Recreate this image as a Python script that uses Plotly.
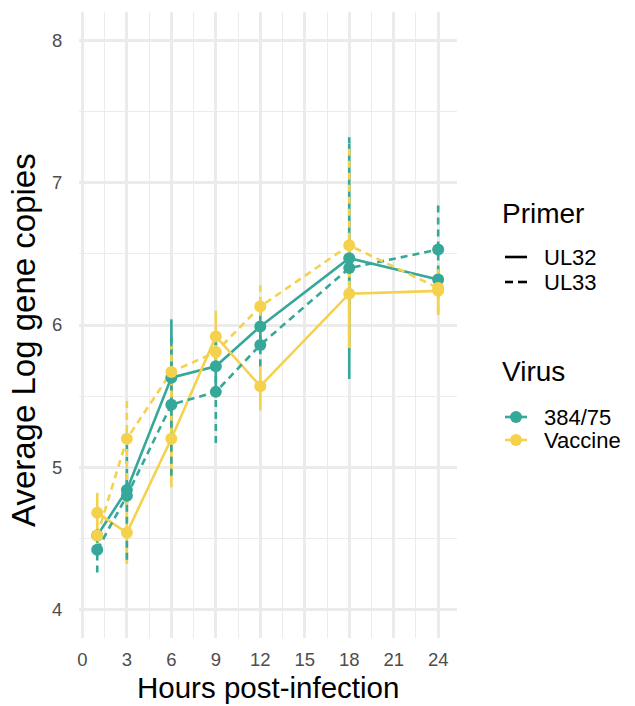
import plotly.graph_objects as go

hours = [1, 3, 6, 9, 12, 18, 24]

v384_ul32 = [4.52, 4.84, 5.63, 5.71, 5.99, 6.47, 6.32]
v384_ul32_err = [0.05, 0.10, 0.41, 0.18, 0.10, 0.85, 0.05]
v384_ul33 = [4.42, 4.80, 5.44, 5.53, 5.86, 6.40, 6.53]
v384_ul33_err = [0.16, 0.45, 0.50, 0.36, 0.15, 0.20, 0.33]
vac_ul32 = [4.68, 4.54, 5.20, 5.92, 5.57, 6.22, 6.24]
vac_ul32_err = [0.14, 0.22, 0.34, 0.18, 0.17, 0.38, 0.17]
vac_ul33 = [4.52, 5.20, 5.67, 5.81, 6.13, 6.56, 6.26]
vac_ul33_err = [0.10, 0.29, 0.18, 0.05, 0.15, 0.72, 0.17]

x_ticks = [0, 3, 6, 9, 12, 15, 18, 21, 24]
y_ticks = [4, 5, 6, 7, 8]

primer_labels = ["UL32", "UL33"]
virus_labels = ["384/75", "Vaccine"]

TEAL = "#35A89A"
YELLOW = "#F4D24E"
DASH = "7px,5px"
LW = 2.6

series = [
    ("384/75", "UL32", v384_ul32, v384_ul32_err, TEAL, "solid"),
    ("Vaccine", "UL32", vac_ul32, vac_ul32_err, YELLOW, "solid"),
    ("384/75", "UL33", v384_ul33, v384_ul33_err, TEAL, DASH),
    ("Vaccine", "UL33", vac_ul33, vac_ul33_err, YELLOW, DASH),
]

fig = go.Figure()

# error bars (vertical segments so they can be dashed)
for virus, primer, vals, errs, col, dash in series:
    xs, ys = [], []
    for h, v, e in zip(hours, vals, errs):
        xs += [h, h, None]
        ys += [v - e, v + e, None]
    fig.add_trace(go.Scatter(x=xs, y=ys, mode="lines", showlegend=False,
                             line=dict(color=col, width=LW, dash=dash),
                             hoverinfo="skip"))

# lines
for virus, primer, vals, errs, col, dash in series:
    fig.add_trace(go.Scatter(x=hours, y=vals, mode="lines", showlegend=False,
                             line=dict(color=col, width=LW, dash=dash)))

# points
for virus, primer, vals, errs, col, dash in series:
    fig.add_trace(go.Scatter(x=hours, y=vals, mode="markers", showlegend=False,
                             marker=dict(color=col, size=12, line=dict(width=0))))

# ---- manual legend / titles (layout in pixel space, converted to paper coords) ----
W, H = 635, 706
ML, MR, MT, MB = 79, 178, 12, 68
PW, PH = W - ML - MR, H - MT - MB


def px(xp):
    return (xp - ML) / PW


def py(yp):
    return (H - MB - yp) / PH


annotations = []
shapes = []


def label(text, x, y, size, xanchor="left", angle=0):
    annotations.append(dict(text=text, x=px(x), y=py(y), xref="paper", yref="paper",
                            xanchor=xanchor, yanchor="middle", showarrow=False,
                            textangle=angle, borderpad=0,
                            font=dict(size=size, color="black")))


# axis titles
label("Hours post-infection", 268, 687, 29.5, xanchor="center")
label("Average Log gene copies", 24, 340, 33, xanchor="center", angle=-90)

label("Primer", 501, 213, 28)
label("Virus", 501, 372, 28)
primer_y = [257, 282]
primer_dash = ["solid", "dash"]
for lab, yy, dsh in zip(primer_labels, primer_y, primer_dash):
    label(lab, 543, yy, 22)
    if dsh == "solid":
        shapes.append(dict(type="line", xref="paper", yref="paper", x0=px(505), x1=px(527),
                           y0=py(yy), y1=py(yy), line=dict(color="black", width=LW)))
    else:
        for a, b in [(505, 513), (518, 527)]:
            shapes.append(dict(type="line", xref="paper", yref="paper", x0=px(a), x1=px(b),
                               y0=py(yy), y1=py(yy), line=dict(color="black", width=LW)))

virus_y = [417, 440]
virus_col = [TEAL, YELLOW]
for lab, yy, col in zip(virus_labels, virus_y, virus_col):
    label(lab, 543, yy, 22)
    shapes.append(dict(type="line", xref="paper", yref="paper", x0=px(505), x1=px(527),
                       y0=py(yy), y1=py(yy), line=dict(color=col, width=LW)))
    shapes.append(dict(type="circle", xref="paper", yref="paper",
                       x0=px(510), x1=px(522), y0=py(yy + 6), y1=py(yy - 6),
                       fillcolor=col, line=dict(width=0)))

GRID = "#EBEBEB"
fig.update_layout(
    width=W, height=H,
    margin=dict(l=ML, r=MR, t=MT, b=MB),
    paper_bgcolor="white", plot_bgcolor="white",
    font=dict(family="Liberation Sans, Arial, sans-serif", color="black"),
    showlegend=False,
    annotations=annotations,
    shapes=shapes,
    xaxis=dict(
        range=[-0.23, 25.27], tickmode="array", tickvals=x_ticks,
        ticktext=[str(t) for t in x_ticks], automargin=False,
        showgrid=True, gridcolor=GRID, gridwidth=2.6, zeroline=False, showline=False,
        minor=dict(tickmode="array", tickvals=[1.5, 4.5, 7.5, 10.5, 13.5, 16.5, 19.5, 22.5],
                   showgrid=True, gridcolor=GRID, gridwidth=1.3),
        tickfont=dict(size=18.5, color="#4D4D4D"),
        ticks="outside", ticklen=5, tickcolor="rgba(0,0,0,0)",
    ),
    yaxis=dict(
        range=[3.8, 8.2], tickmode="array", tickvals=y_ticks,
        ticktext=[str(t) for t in y_ticks], automargin=False,
        showgrid=True, gridcolor=GRID, gridwidth=2.6, zeroline=False, showline=False,
        minor=dict(tickmode="array", tickvals=[4.5, 5.5, 6.5, 7.5],
                   showgrid=True, gridcolor=GRID, gridwidth=1.3),
        tickfont=dict(size=18.5, color="#4D4D4D"),
        ticks="outside", ticklen=12, tickcolor="rgba(0,0,0,0)",
    ),
)

fig.write_html("out.html")
